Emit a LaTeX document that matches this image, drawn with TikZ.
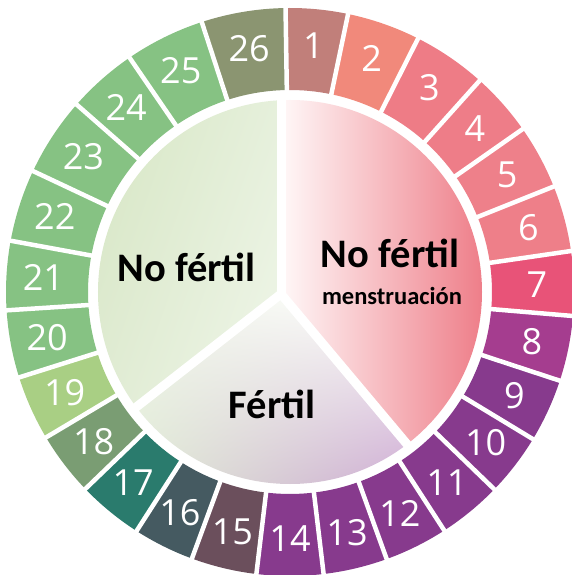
\documentclass[tikz,border=0pt]{standalone}
\usepackage{fontspec}
\setmainfont{Carlito}
\newfontfamily\numfont{Open Sans}
\usetikzlibrary{shadings,calc}
\definecolor{cA}{HTML}{C17F7A}
\definecolor{cB}{HTML}{F1897B}
\definecolor{cC}{HTML}{EE7C86}
\definecolor{cD}{HTML}{EE7D88}
\definecolor{cE}{HTML}{EE808A}
\definecolor{cF}{HTML}{EE7F89}
\definecolor{cG}{HTML}{E85378}
\definecolor{cH}{HTML}{A53D8F}
\definecolor{cI}{HTML}{873A8D}
\definecolor{cJ}{HTML}{6B4F5C}
\definecolor{cK}{HTML}{455A61}
\definecolor{cL}{HTML}{2A7B6D}
\definecolor{cM}{HTML}{7A9D73}
\definecolor{cN}{HTML}{A9CF84}
\definecolor{cO}{HTML}{86C283}
\definecolor{cP}{HTML}{8B9571}
\definecolor{pinkR}{HTML}{EE7E89}
\definecolor{pinkL}{HTML}{FFF8F8}
\definecolor{gUL}{HTML}{D6E6C3}
\definecolor{gUR}{HTML}{E6F0DC}
\definecolor{gLL}{HTML}{E1ECD5}
\definecolor{gLR}{HTML}{F1F7EB}
\definecolor{fUL}{HTML}{F2F7EC}
\definecolor{fUR}{HTML}{FFFFFF}
\definecolor{fLL}{HTML}{E0ECD5}
\definecolor{fLR}{HTML}{CEA9D4}
\tikzset{
  daynum/.style={text=white, inner sep=0pt, font=\numfont\fontsize{36}{36}\selectfont},
  bigtxt/.style={text=black, inner sep=0pt, anchor=base, font=\bfseries\fontsize{40.5}{40.5}\selectfont},
  smalltxt/.style={text=black, inner sep=0pt, anchor=base, font=\bfseries\fontsize{24.5}{24.5}\selectfont},
  gapline/.style={white, line width=4.5pt},
  sepline/.style={white, line width=9pt}
}
\begin{document}
\begin{tikzpicture}[x=1pt,y=1pt]
\useasboundingbox (-290,-283) rectangle (282,292);
\clip (-290,-283) rectangle (282,292);
\fill[white] (-290,-283) rectangle (282,292);
% ring of days
\foreach \a/\b/\c [count=\i] in {
  90.9/78.2/cA, 78.2/63.2/cB, 63.2/48.1/cC, 48.1/35.0/cD, 35.0/21.8/cE,
  21.8/8.3/cF, 8.3/-4.85/cG, -4.85/-18.2/cH, -18.2/-31.2/cI, -31.2/-44.0/cI,
  -44.0/-57.1/cI, -57.1/-70.1/cI, -70.1/-83.2/cI, -83.2/-96.8/cI, -96.8/-110.2/cJ,
  -110.2/-122.7/cK, -122.7/-136.1/cL, -136.1/-149.2/cM, -149.2/-162.5/cN, -162.5/-176.3/cO,
  -176.3/-190.4/cO, -190.4/-205.2/cO, -205.2/-221.3/cO, -221.3/-235.6/cO, -235.6/-251.9/cO,
  -251.9/-269.1/cP} {
  \fill[\c] (\a:202) arc[start angle=\a, end angle=\b, radius=202]
     -- (\b:284) arc[start angle=\b, end angle=\a, radius=284] -- cycle;
  \node[daynum] (n\i) at ({(\a+\b)/2}:247) {\i};
}
\foreach \a in {90.9,78.2,63.2,48.1,35.0,21.8,8.3,-4.85,-18.2,-31.2,-44.0,-57.1,-70.1,
  -83.2,-96.8,-110.2,-122.7,-136.1,-149.2,-162.5,-176.3,-190.4,-205.2,-221.3,-235.6,-251.9} {
  \draw[gapline] (\a:198) -- (\a:292);
}
% inner pie
\coordinate (V) at (-9,-2);
\coordinate (sTop) at ($(V)+(90:220)$);
\coordinate (sRight) at ($(V)+(-50:220)$);
\coordinate (sLeft) at ($(V)+(218:220)$);
\begin{scope}
  \clip (0,0) circle (192);
  % left: no fertil
  \begin{scope}
    \clip (V) -- ++(90:400) arc[start angle=90, end angle=218, radius=400] -- cycle;
    \shade[shading=bilinear interpolation, upper left=gUL, upper right=gUR, lower left=gLL, lower right=gLR]
      (-193,-150) rectangle (-8,193);
  \end{scope}
  % right: menstruacion
  \begin{scope}
    \clip (V) -- ++(90:400) arc[start angle=90, end angle=-50, radius=400] -- cycle;
    \shade[left color=pinkL, right color=pinkR] (-9,-193) rectangle (193,193);
  \end{scope}
  % bottom: fertil
  \begin{scope}
    \clip (V) -- ++(218:400) arc[start angle=218, end angle=310, radius=400] -- cycle;
    \shade[shading=bilinear interpolation, upper left=fUL, upper right=fUR, lower left=fLL, lower right=fLR]
      (-160,-193) rectangle (135,-2);
  \end{scope}
\end{scope}
\begin{scope}
  \clip (0,0) circle (196);
  \draw[sepline] (V) -- (sTop);
  \draw[sepline] (V) -- (sRight);
  \draw[sepline] (V) -- (sLeft);
\end{scope}
% labels
\node[bigtxt] (tleft) at (-103.5,10) {No fértil};
\node[bigtxt] (tright) at (100,24) {No fértil};
\node[smalltxt] (tmens) at (102,-13) {menstruación};
\node[bigtxt] (tfert) at (-18,-126) {Fértil};
\end{tikzpicture}
\end{document}
